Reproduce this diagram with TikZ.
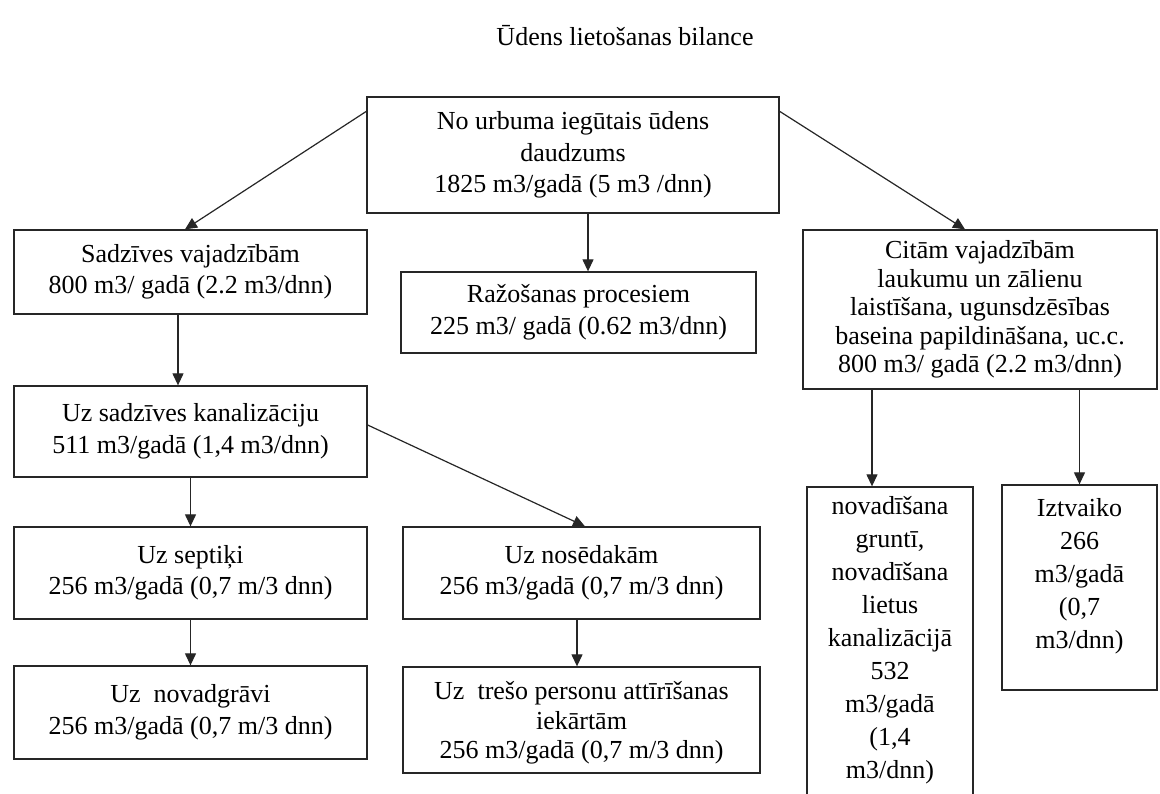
\documentclass[tikz,border=0pt]{standalone}
\usepackage{fontspec}
\setmainfont{Liberation Serif}
\usetikzlibrary{arrows.meta,calc}
\begin{document}
\begin{tikzpicture}[x=1pt,y=-1pt,
  box/.style={draw=black!85,line width=1.3pt,inner sep=0pt,align=center,
    font=\fontsize{26}{31.5}\selectfont},
  txt/.style={inner sep=0pt,align=center,font=\fontsize{26}{33}\selectfont},
  arr/.style={draw=black!85,line width=1.2pt,-{Triangle[length=12pt,width=11pt]}}]
\useasboundingbox[fill=white] (0,0) rectangle (1160,794);

\node[inner sep=0pt,font=\fontsize{26}{31}\selectfont] (title) at (625,36) {Ūdens lietošanas bilance};

\node[box,minimum width=412pt,minimum height=116pt] (A) at (573,155)
  {No urbuma iegūtais ūdens\\daudzums\\1825 m3/gadā (5 m3 /dnn)};
\node[box,minimum width=353pt,minimum height=84pt] (B) at (190.5,272)
  {Sadzīves vajadzībām\\800 m3/ gadā (2.2 m3/dnn)};
\node[box,minimum width=355pt,minimum height=81pt] (C) at (578.5,312.5)
  {Ražošanas procesiem\\225 m3/ gadā (0.62 m3/dnn)};
\node[box,minimum width=354pt,minimum height=159pt,font=\fontsize{26}{28.5}\selectfont] (D) at (980,309.5)
  {Citām vajadzībām\\laukumu un zālienu\\laistīšana, ugunsdzēsības\\baseina papildināšana, uc.c.\\800 m3/ gadā (2.2 m3/dnn)};
\node[box,minimum width=353pt,minimum height=91pt] (E) at (190.5,431.5)
  {Uz sadzīves kanalizāciju\\511 m3/gadā (1,4 m3/dnn)};
\node[box,minimum width=353pt,minimum height=92pt] (F) at (190.5,573)
  {Uz septiķi\\256 m3/gadā (0,7 m/3 dnn)};
\node[box,minimum width=353pt,minimum height=93pt] (G) at (190.5,712.5)
  {Uz\ \ novadgrāvi\\256 m3/gadā (0,7 m/3 dnn)};
\node[box,minimum width=357pt,minimum height=92pt] (H) at (581.5,573)
  {Uz nosēdakām\\256 m3/gadā (0,7 m/3 dnn)};
\node[box,minimum width=357pt,minimum height=106pt] (I) at (581.5,720) {};
\node[txt,font=\fontsize{26}{29.5}\selectfont] (It) at ($(I.center)+(0,-3pt)$)
  {Uz\ \ trešo personu attīrīšanas\\iekārtām\\256 m3/gadā (0,7 m/3 dnn)};
\node[box,minimum width=166pt,minimum height=310pt] (J) at (890,642) {};
\node[txt,anchor=north] (Jt) at ($(J.north)+(0,-10pt)$)
  {novadīšana\\gruntī,\\novadīšana\\lietus\\kanalizācijā\\532\\m3/gadā\\(1,4\\m3/dnn)};
\node[box,minimum width=155pt,minimum height=205pt] (K) at (1079.5,587.5) {};
\node[txt,anchor=north] (Kt) at ($(K.north)+(0,-14pt)$)
  {Iztvaiko\\266\\m3/gadā\\(0,7\\m3/dnn)};

\draw[arr] ([yshift=-15pt]A.north west) -- ([xshift=-5.5pt]B.north);
\draw[arr] ([xshift=15pt]A.south) -- ([xshift=15pt]A.south |- C.north);
\draw[arr] ([yshift=-15pt]A.north east) -- ([xshift=-15pt]D.north);
\draw[arr] ([xshift=-12.5pt]B.south) -- ([xshift=-12.5pt]B.south |- E.north);
\draw[arr] (E.south) -- (F.north);
\draw[arr] ([yshift=6.5pt]E.east) -- ([xshift=3.5pt]H.north);
\draw[arr] (F.south) -- (G.north);
\draw[arr] ([xshift=-4.5pt]H.south) -- ([xshift=-4.5pt]H.south |- I.north);
\draw[arr] ([xshift=-18pt]J.north |- D.south) -- ([xshift=-18pt]J.north);
\draw[arr] (K.north |- D.south) -- (K.north);
\end{tikzpicture}
\end{document}
